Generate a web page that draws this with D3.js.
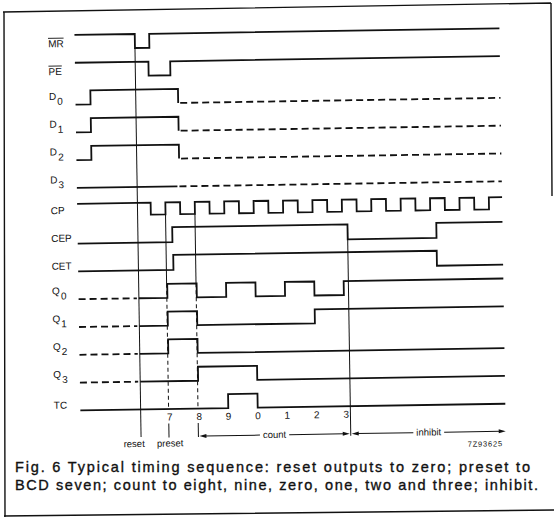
<!DOCTYPE html>
<html>
<head>
<meta charset="utf-8">
<script src="https://cdn.jsdelivr.net/npm/d3@7/dist/d3.min.js"></script>
<style>
  body { margin: 0; background: #fff; }
  svg { display: block; font-family: "Liberation Sans", Arial, sans-serif; }
</style>
</head>
<body>
<svg id="chart" width="554" height="525"></svg>
<script>
// Signal names, top to bottom
const signals = ['MR', 'PE', 'D0', 'D1', 'D2', 'D3', 'CP', 'CEP', 'CET', 'Q0', 'Q1', 'Q2', 'Q3', 'TC'];
const overbar = ['MR', 'PE'];

// Time axis in clock periods, 0 = the clock edge that loads "7"
const tStart = -3;
const tEnd = 11.45;

// Waveforms as [time, level] steps
const mrWave = [[-3, 1], [-0.95, 0], [-0.46, 1]];
const peWave = [[-3, 1], [-0.5, 0], [0.24, 1]];
const d0Wave = [[-3, 0], [-2.49, 1], [0.49, 0]];
const d1Wave = [[-3, 0], [-2.49, 1], [0.49, 0]];
const d2Wave = [[-3, 0], [-2.49, 1], [0.49, 0]];
const d3Wave = [[-3, 0]];
const cpWave = [[-3, 1], [-0.5, 0], [0, 1], [0.5, 0], [1, 1], [1.5, 0], [2, 1], [2.5, 0], [3, 1],
  [3.5, 0], [4, 1], [4.5, 0], [5, 1], [5.5, 0], [6, 1], [6.5, 0], [7, 1], [7.5, 0], [8, 1],
  [8.5, 0], [9, 1], [9.5, 0], [10, 1], [10.5, 0], [11, 1]];
const cepWave = [[-3, 0], [0.22, 1], [6.18, 0], [9.2, 1]];
const cetWave = [[-3, 0], [0.24, 1], [9.2, 0]];
const q0Wave = [[-3, 0], [0.02, 1], [1.02, 0], [2.02, 1], [3.02, 0], [4.02, 1], [5.02, 0], [6.02, 1]];
const q1Wave = [[-3, 0], [0.02, 1], [1.02, 0], [5.02, 1]];
const q2Wave = [[-3, 0], [0.02, 1], [1.02, 0]];
const q3Wave = [[-3, 0], [1.02, 1], [3.03, 0]];
const tcWave = [[-3, 0], [2.03, 1], [3.03, 0]];

// Undefined (dashed) stretches per signal
const dashedSpans = [null, null, [0.49, tEnd], [0.49, tEnd], [0.49, tEnd], [0.42, tEnd],
  null, null, null, [tStart, -0.95], [tStart, -0.95], [tStart, -0.95], [tStart, -0.95], null];

// Count labels under the clock edges
const countTimes = [0, 1, 2, 3, 4, 5, 6];
const countLabels = ['7', '8', '9', '0', '1', '2', '3'];

// Reference instants
const resetTime = -0.95;
const presetTime = 0;
const countStart = 1;
const inhibitStart = 6.18;

const captionLines = [
  'Fig. 6  Typical timing sequence: reset outputs to zero; preset to',
  'BCD seven; count to eight, nine, zero, one, two and three; inhibit.'
];

const waves = [mrWave, peWave, d0Wave, d1Wave, d2Wave, d3Wave, cpWave, cepWave, cetWave,
  q0Wave, q1Wave, q2Wave, q3Wave, tcWave];
const amps = signals.map(s => s === 'CP' ? 12 : (s === 'CEP' || s === 'CET') ? 15 : 14);

const svg = d3.select('#chart');

// page frame of the scan
svg.append('path')
  .attr('d', 'M3,12 L551,3 M551,3 L552,196 M4,12 L5,517 M4,516 L554,510')
  .attr('fill', 'none')
  .attr('stroke', '#111')
  .attr('stroke-width', 1.4);

// the scanned figure is turned slightly
const g = svg.append('g').attr('transform', 'rotate(-0.9,137,260)');

const x = d3.scaleLinear().domain([tStart, tEnd]).range([78, 503]);
const row = d3.scaleLinear().domain([0, signals.length - 1]).range([48, 409.5]);

const levelAt = (steps, t) => {
  let lev = steps[0][1];
  steps.forEach(s => { if (s[0] <= t) lev = s[1]; });
  return lev;
};

const line = d3.line().curve(d3.curveStepAfter);

waves.forEach((steps, i) => {
  const yOf = lev => row(i) - amps[i] * lev;
  const span = dashedSpans[i];
  let solidFrom = tStart, solidTo = tEnd;
  if (span && span[0] === tStart) solidFrom = span[1];
  else if (span) solidTo = span[0];

  const pts = [[solidFrom, levelAt(steps, solidFrom)]];
  steps.forEach(s => { if (s[0] > solidFrom && s[0] < solidTo) pts.push(s); });
  pts.push([solidTo, levelAt(steps, solidTo)]);

  g.append('path')
    .attr('d', line(pts.map(p => [x(p[0]), yOf(p[1])])))
    .attr('fill', 'none')
    .attr('stroke', '#111')
    .attr('stroke-width', 1.8);

  if (span) {
    const lev = levelAt(steps, span[0] === tStart ? span[1] : span[0]);
    g.append('line')
      .attr('x1', x(span[0]) + (span[0] === tStart ? 0 : 2))
      .attr('x2', x(span[1]) - (span[0] === tStart ? 2 : 0))
      .attr('y1', yOf(lev)).attr('y2', yOf(lev))
      .attr('stroke', '#111')
      .attr('stroke-width', 1.8)
      .attr('stroke-dasharray', '7,4');
  }

  // signal label
  const name = signals[i];
  const hasSub = /^[DQ]\d$/.test(name);
  const lbl = g.append('text')
    .attr('x', 51.5)
    .attr('y', row(i) - (hasSub ? 5 : 2))
    .attr('font-size', 10)
    .attr('fill', '#111');
  if (hasSub) {
    lbl.append('tspan').text(name[0]);
    lbl.append('tspan').attr('dy', 5).attr('dx', 1).text(name[1]);
  } else {
    lbl.text(name);
  }
  if (overbar.includes(name)) {
    const w = lbl.node().getComputedTextLength();
    g.append('line')
      .attr('x1', 51.5).attr('x2', 51.5 + w)
      .attr('y1', row(i) - 11).attr('y2', row(i) - 11)
      .attr('stroke', '#111').attr('stroke-width', 0.9);
  }
});

// vertical reference lines
const rowIdx = name => signals.indexOf(name);
const thin = sel => sel.attr('stroke', '#111').attr('stroke-width', 1);

thin(g.append('line')
  .attr('x1', x(resetTime)).attr('x2', x(resetTime))
  .attr('y1', row(rowIdx('MR'))).attr('y2', 437));

[presetTime, countStart].forEach(t => {
  thin(g.append('line')
    .attr('x1', x(t)).attr('x2', x(t))
    .attr('y1', row(rowIdx('CP'))).attr('y2', row(rowIdx('Q0')) - amps[rowIdx('Q0')]));
  thin(g.append('line')
    .attr('x1', x(t)).attr('x2', x(t))
    .attr('y1', row(rowIdx('Q0')) - amps[rowIdx('Q0')]).attr('y2', row(rowIdx('TC'))))
    .attr('stroke-dasharray', '4,3');
  thin(g.append('line')
    .attr('x1', x(t)).attr('x2', x(t))
    .attr('y1', 424).attr('y2', 438));
});

thin(g.append('line')
  .attr('x1', x(inhibitStart)).attr('x2', x(inhibitStart))
  .attr('y1', row(rowIdx('CEP')) - amps[rowIdx('CEP')]).attr('y2', 439));

// count numbers
g.selectAll('.num')
  .data(countTimes)
  .join('text')
  .attr('class', 'num')
  .attr('x', t => x(t) + 1)
  .attr('y', 421)
  .attr('text-anchor', 'middle')
  .attr('font-size', 10)
  .attr('fill', '#111')
  .text((t, i) => countLabels[i]);

g.append('text')
  .attr('x', x(resetTime) - 7).attr('y', 447)
  .attr('text-anchor', 'middle').attr('font-size', 9.5).attr('fill', '#111')
  .text('reset');
g.append('text')
  .attr('x', x(presetTime) + 1).attr('y', 447)
  .attr('text-anchor', 'middle').attr('font-size', 9.5).attr('fill', '#111')
  .text('preset');

// arrows with text
function arrowSpan(x0, x1, y, label) {
  const t = g.append('text')
    .attr('x', (x0 + x1) / 2).attr('y', y + 3)
    .attr('text-anchor', 'middle').attr('font-size', 9.5).attr('fill', '#111')
    .text(label);
  const w = t.node().getComputedTextLength();
  const mid = (x0 + x1) / 2;
  thin(g.append('line').attr('x1', x0 + 5).attr('x2', mid - w / 2 - 3).attr('y1', y).attr('y2', y));
  thin(g.append('line').attr('x1', mid + w / 2 + 3).attr('x2', x1 - 5).attr('y1', y).attr('y2', y));
  g.append('path')
    .attr('d', `M${x0},${y} l7,-2 l0,4 Z M${x1},${y} l-7,-2 l0,4 Z`)
    .attr('fill', '#111');
}
arrowSpan(x(countStart) + 1, x(inhibitStart) - 1, 437, 'count');
arrowSpan(x(inhibitStart) + 1, x(tEnd), 437, 'inhibit');

g.append('text')
  .attr('x', 500).attr('y', 452)
  .attr('text-anchor', 'end').attr('font-size', 7.5).attr('letter-spacing', 0.8)
  .attr('fill', '#111')
  .text('7Z93625');

// caption, spread to the printed width (kept level so the lines stay apart)
const capWidths = [515, 523];
captionLines.forEach((txt, i) => {
  svg.append('text')
    .attr('x', 15).attr('y', 472 + i * 18)
    .attr('font-size', 14.5)
    .attr('textLength', capWidths[i])
    .attr('lengthAdjust', 'spacing')
    .attr('fill', '#111')
    .attr('stroke', '#111')
    .attr('stroke-width', 0.35)
    .text(txt);
});
</script>
</body>
</html>
